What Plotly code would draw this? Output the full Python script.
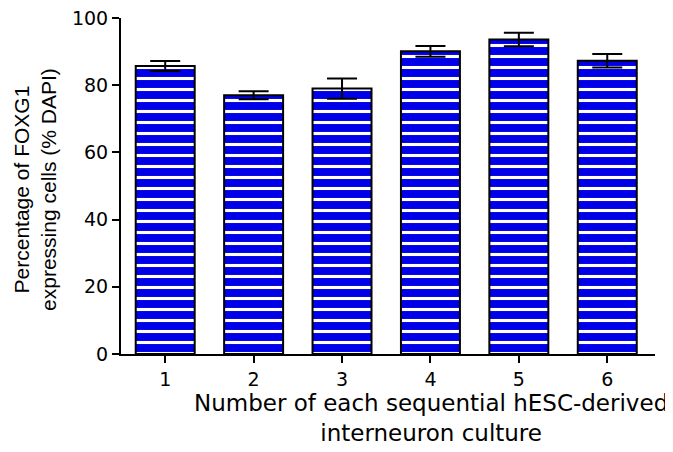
import plotly.graph_objects as go

cultures = ["1", "2", "3", "4", "5", "6"]
foxg1_pct = [85.7, 77.0, 79.0, 90.1, 93.6, 87.3]
sem = [1.5, 1.2, 3.0, 1.6, 2.0, 2.0]
y_ticks = [0, 20, 40, 60, 80, 100]

x_title = "Number of each sequential hESC-derived<br>interneuron culture"
y_title = "Percentage of FOXG1<br>expressing cells (% DAPI)"

BLUE = "#0000E8"

fig = go.Figure()
fig.add_trace(go.Bar(
    x=cultures, y=foxg1_pct, width=0.667,
    marker=dict(
        color=BLUE,
        line=dict(color="black", width=2),
        pattern=dict(shape="-", fgcolor="white", bgcolor=BLUE, fgopacity=1,
                     size=11, solidity=0.28),
    ),
    error_y=dict(type="data", array=sem, visible=True, color="black", thickness=2, width=15),
))

fig.update_layout(
    width=665, height=444,
    margin=dict(l=113, r=18, t=10, b=98),
    plot_bgcolor="white", paper_bgcolor="white",
    showlegend=False,
    font=dict(family="DejaVu Sans", color="black", size=19),
    xaxis=dict(
        type="category", range=[-0.5, 5.54], automargin=False,
        showline=True, linecolor="black", linewidth=2,
        ticks="outside", ticklen=7, tickwidth=2, tickcolor="black",
        showgrid=False, zeroline=False,
        tickfont=dict(family="DejaVu Sans", size=19),
    ),
    yaxis=dict(
        range=[0, 100], tickvals=y_ticks, automargin=False,
        showline=True, linecolor="black", linewidth=2,
        ticks="outside", ticklen=7, tickwidth=2, tickcolor="black",
        showgrid=False, zeroline=False, ticklabeloverflow="allow",
        tickfont=dict(family="DejaVu Sans", size=19),
    ),
    annotations=[
        dict(text=x_title, xref="paper", yref="paper", x=0.5805, y=-0.19,
             xanchor="center", yanchor="middle", showarrow=False, align="center",
             font=dict(family="DejaVu Sans", size=23)),
        dict(text=y_title, xref="paper", yref="paper", x=-0.16, y=0.49,
             xanchor="center", yanchor="middle", showarrow=False, align="center",
             textangle=-90, font=dict(family="Liberation Sans", size=21)),
    ],
)

fig.write_html("out.html")
